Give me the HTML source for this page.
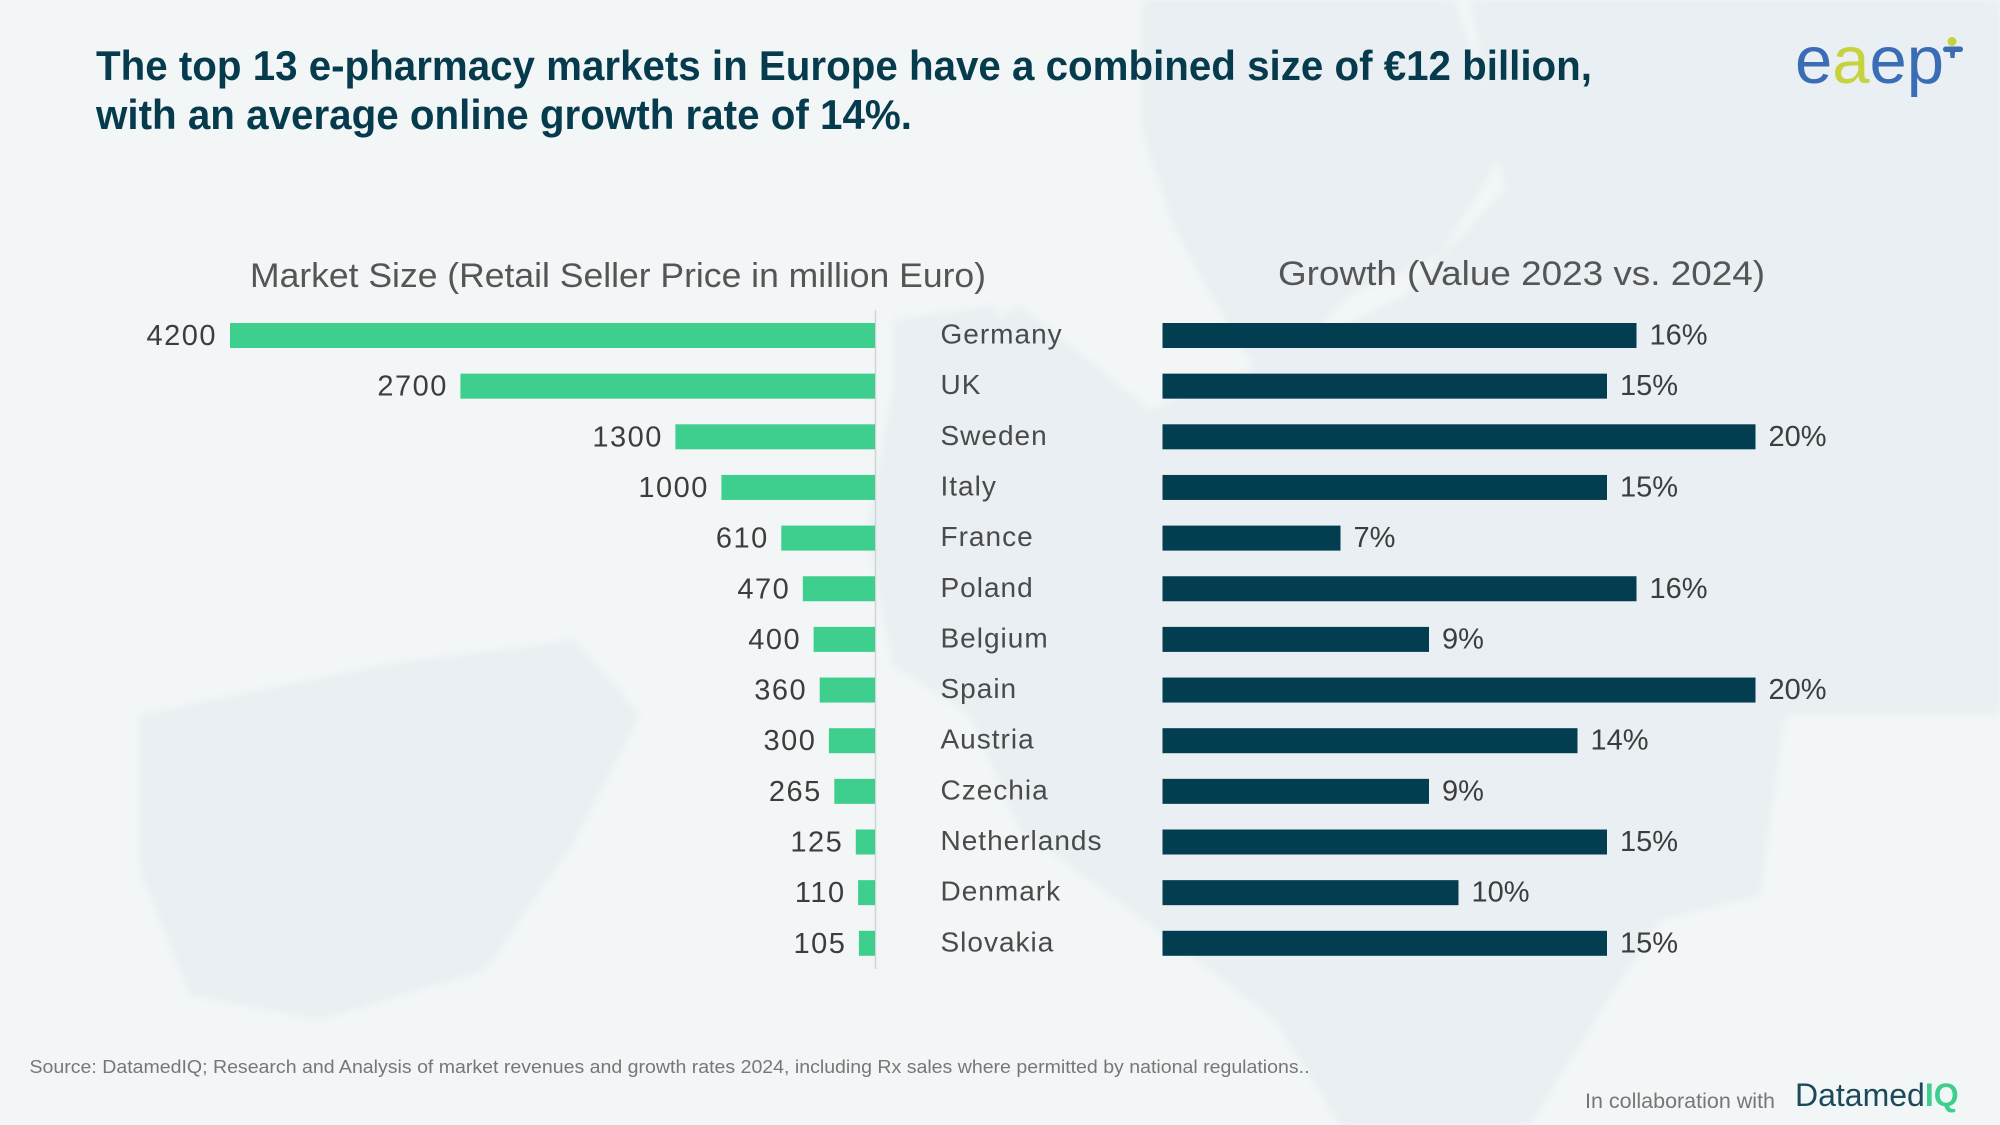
<!DOCTYPE html>
<html><head><meta charset="utf-8"><style>
html,body{margin:0;padding:0;background:#f2f6f6;}
svg{display:block;}
</style></head><body>
<svg width="2000" height="1125" viewBox="0 0 2000 1125" xmlns="http://www.w3.org/2000/svg">
<defs><filter id="bl"><feGaussianBlur stdDeviation="4"/></filter></defs>
<rect width="2000" height="1125" fill="#f2f6f6"/>
<g fill="#e9eff2" filter="url(#bl)">
<polygon points="1142,0 1455,0 1505,150 1440,255 1350,295 1265,385 1225,320 1175,230 1142,130"/>
<polygon points="1470,0 2000,0 2000,715 1915,715 1785,715 1760,895 1660,920 1595,1020 1530,1125 1340,1125 1275,1020 1210,970 1110,895 1020,830 970,715 893,665 867,535 893,385 1020,305 1150,410 1275,360 1405,295 1505,190"/>
<polygon points="140,715 383,665 575,640 640,715 575,840 485,970 320,1020 190,995 140,870"/>
<polygon points="893,320 995,305 1020,420 1033,535 945,575 893,510"/>
</g>

<!-- Title -->
<g font-family="Liberation Sans, sans-serif" font-weight="bold" font-size="42" fill="#053b4d">
<text x="96" y="80" textLength="1496" lengthAdjust="spacingAndGlyphs">The top 13 e-pharmacy markets in Europe have a combined size of €12 billion,</text>
<text x="96" y="129" textLength="816" lengthAdjust="spacingAndGlyphs">with an average online growth rate of 14%.</text>
</g>

<!-- Logo -->
<g font-family="Liberation Sans, sans-serif" font-size="67">
<text x="1795" y="83"><tspan fill="#3a6db5">e</tspan><tspan fill="#c6d23e">a</tspan><tspan fill="#3a6db5">ep</tspan></text>
</g>
<circle cx="1952" cy="41.5" r="4.5" fill="#c6d23e"/>
<rect x="1943" y="46.5" width="20" height="5.5" rx="2.7" fill="#3a6db5"/>
<path d="M1949.5 47 L1955.5 47 L1954.5 58 L1950.5 58 Z" fill="#3a6db5"/>

<!-- Section headers -->
<g font-family="Liberation Sans, sans-serif" font-size="34" fill="#555">
<text x="250" y="287" textLength="736" lengthAdjust="spacingAndGlyphs">Market Size (Retail Seller Price in million Euro)</text>
<text x="1278" y="285" textLength="487" lengthAdjust="spacingAndGlyphs">Growth (Value 2023 vs. 2024)</text>
</g>

<!-- axis line -->
<line x1="875.5" y1="310" x2="875.5" y2="969" stroke="#cfd4d6" stroke-width="1.5"/>

<!-- Left bars -->
<g fill="#3ecf8e">
<rect x="230.0" y="323" width="645.0" height="25"/>
<rect x="460.4" y="373.65" width="414.6" height="25"/>
<rect x="675.4" y="424.3" width="199.6" height="25"/>
<rect x="721.4" y="474.95" width="153.6" height="25"/>
<rect x="781.3" y="525.6" width="93.7" height="25"/>
<rect x="802.8" y="576.25" width="72.2" height="25"/>
<rect x="813.6" y="626.9" width="61.4" height="25"/>
<rect x="819.7" y="677.55" width="55.3" height="25"/>
<rect x="828.9" y="728.2" width="46.1" height="25"/>
<rect x="834.3" y="778.85" width="40.7" height="25"/>
<rect x="855.8" y="829.5" width="19.2" height="25"/>
<rect x="858.1" y="880.15" width="16.9" height="25"/>
<rect x="858.9" y="930.8" width="16.1" height="25"/>
</g>
<g font-family="Liberation Sans, sans-serif" font-size="29" fill="#3d3d3d" text-anchor="end" letter-spacing="1.5">
<text x="217" y="345">4200</text>
<text x="447.9" y="395.65">2700</text>
<text x="662.9" y="446.3">1300</text>
<text x="708.9" y="496.95">1000</text>
<text x="768.8" y="547.6">610</text>
<text x="790.3" y="598.25">470</text>
<text x="801.1" y="648.9">400</text>
<text x="807.2" y="699.55">360</text>
<text x="816.4" y="750.2">300</text>
<text x="821.8" y="800.85">265</text>
<text x="843.3" y="851.5">125</text>
<text x="845.6" y="902.15">110</text>
<text x="846.4" y="952.8">105</text>
</g>

<!-- Country labels -->
<g font-family="Liberation Sans, sans-serif" font-size="28" fill="#4a4a4a" letter-spacing="1">
<text x="940.5" y="343.5">Germany</text>
<text x="940.5" y="394.15">UK</text>
<text x="940.5" y="444.8">Sweden</text>
<text x="940.5" y="495.45">Italy</text>
<text x="940.5" y="546.1">France</text>
<text x="940.5" y="596.75">Poland</text>
<text x="940.5" y="647.4">Belgium</text>
<text x="940.5" y="698.05">Spain</text>
<text x="940.5" y="748.7">Austria</text>
<text x="940.5" y="799.35">Czechia</text>
<text x="940.5" y="850">Netherlands</text>
<text x="940.5" y="900.65">Denmark</text>
<text x="940.5" y="951.3">Slovakia</text>
</g>

<!-- Right bars -->
<g fill="#033d50">
<rect x="1162.5" y="323" width="474" height="25"/>
<rect x="1162.5" y="373.65" width="444.5" height="25"/>
<rect x="1162.5" y="424.3" width="593" height="25"/>
<rect x="1162.5" y="474.95" width="444.5" height="25"/>
<rect x="1162.5" y="525.6" width="178" height="25"/>
<rect x="1162.5" y="576.25" width="474" height="25"/>
<rect x="1162.5" y="626.9" width="266.5" height="25"/>
<rect x="1162.5" y="677.55" width="593" height="25"/>
<rect x="1162.5" y="728.2" width="415" height="25"/>
<rect x="1162.5" y="778.85" width="266.5" height="25"/>
<rect x="1162.5" y="829.5" width="444.5" height="25"/>
<rect x="1162.5" y="880.15" width="296" height="25"/>
<rect x="1162.5" y="930.8" width="444.5" height="25"/>
</g>
<g font-family="Liberation Sans, sans-serif" font-size="29" fill="#3d3d3d">
<text x="1649.5" y="344.5">16%</text>
<text x="1620" y="395.15">15%</text>
<text x="1768.5" y="445.8">20%</text>
<text x="1620" y="496.45">15%</text>
<text x="1353.5" y="547.1">7%</text>
<text x="1649.5" y="597.75">16%</text>
<text x="1442" y="648.4">9%</text>
<text x="1768.5" y="699.05">20%</text>
<text x="1590.5" y="749.7">14%</text>
<text x="1442" y="800.35">9%</text>
<text x="1620" y="851">15%</text>
<text x="1471.5" y="901.65">10%</text>
<text x="1620" y="952.3">15%</text>
</g>

<!-- Footer -->
<text x="29.5" y="1073" font-family="Liberation Sans, sans-serif" font-size="18.5" fill="#777" textLength="1280" lengthAdjust="spacingAndGlyphs">Source: DatamedIQ; Research and Analysis of market revenues and growth rates 2024, including Rx sales where permitted by national regulations..</text>
<text x="1585" y="1108" font-family="Liberation Sans, sans-serif" font-size="21" fill="#777" textLength="190" lengthAdjust="spacingAndGlyphs">In collaboration with</text>
<text x="1795" y="1106" font-family="Liberation Sans, sans-serif" font-size="32"><tspan fill="#1d4a5b">Datamed</tspan><tspan fill="#3ecf8e" font-weight="bold">IQ</tspan></text>
</svg>
</body></html>
